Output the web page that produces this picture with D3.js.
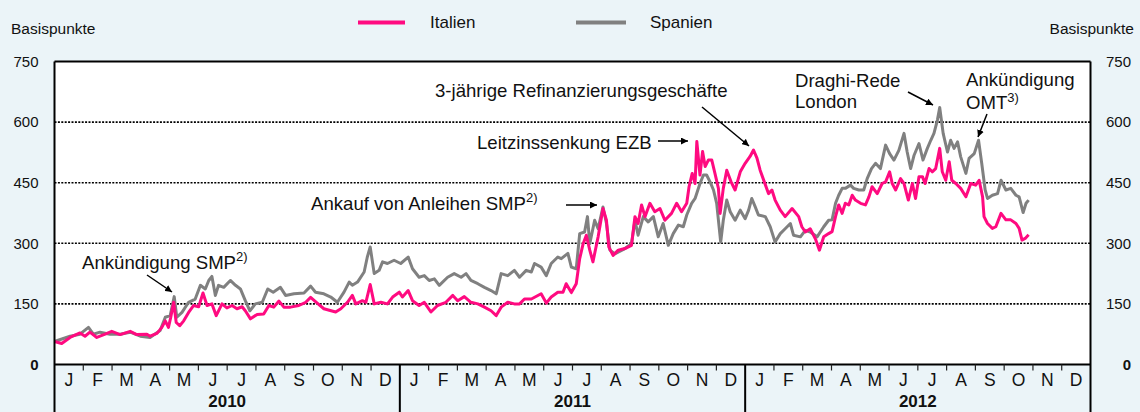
<!DOCTYPE html>
<html><head><meta charset="utf-8">
<script src="https://cdn.jsdelivr.net/npm/d3@7"></script>
<style>
body{margin:0;background:#ebf4f8;}
svg{display:block;font-family:"Liberation Sans",Arial,sans-serif;}
</style>
</head><body><svg id="c" width="1140" height="412"></svg>
<script>
// ---- data ----
const monthLabels = ["J","F","M","A","M","J","J","A","S","O","N","D"];
const yearLabels = ["2010","2011","2012"];
const yTicks = [0,150,300,450,600,750];
const gridTicks = [150,300,450,600];
const seriesNames = ["Italien","Spanien"];
const seriesColors = ["#ff0a80","#808080"];

// months since 1 Jan 2010
const italyMonths = [0.00,0.25,0.54,0.885,1.06,1.23,1.47,1.76,1.99,2.28,2.63,2.86,3.21,3.32,3.56,3.73,3.85,3.96,4.04,4.14,4.23,4.35,4.49,4.66,4.83,5.01,5.16,5.30,5.47,5.62,5.82,5.99,6.17,6.34,6.52,6.63,6.81,7.04,7.27,7.45,7.62,7.80,7.97,8.20,8.49,8.73,8.90,9.13,9.36,9.77,9.95,10.18,10.35,10.47,10.70,10.82,10.97,11.11,11.34,11.57,11.75,11.98,12.09,12.29,12.44,12.67,12.85,13.08,13.31,13.60,13.84,14.01,14.24,14.47,14.71,14.94,15.17,15.35,15.52,15.75,15.98,16.16,16.33,16.57,16.91,17.09,17.26,17.49,17.67,17.78,17.96,18.13,18.25,18.37,18.48,18.60,18.71,18.89,19.06,19.18,19.26,19.41,19.59,19.82,20.05,20.17,20.28,20.40,20.52,20.69,20.86,21.04,21.21,21.44,21.62,21.79,21.97,22.05,22.16,22.26,22.32,22.43,22.52,22.61,22.72,22.84,22.95,23.07,23.13,23.24,23.36,23.51,23.65,23.83,24.00,24.17,24.29,24.41,24.52,24.64,24.81,24.93,25.04,25.22,25.39,25.63,25.86,25.97,26.09,26.26,26.44,26.58,26.73,26.90,27.02,27.14,27.25,27.37,27.48,27.60,27.72,27.83,28.01,28.18,28.30,28.41,28.59,28.76,28.88,29.02,29.11,29.23,29.40,29.52,29.67,29.81,29.92,30.04,30.16,30.25,30.39,30.50,30.62,30.76,30.85,30.97,31.09,31.18,31.32,31.49,31.67,31.84,32.01,32.13,32.25,32.30,32.42,32.59,32.71,32.89,33.06,33.23,33.41,33.52,33.62,33.73,33.85];
const italyValues = [57,52,67,78,70,80,67,75,82,74,82,74,75,70,77,92,108,92,117,154,104,96,108,129,146,143,177,146,150,121,150,140,146,138,143,133,113,124,125,146,142,157,142,142,146,154,166,152,138,130,138,154,171,150,158,154,198,150,154,150,167,179,167,183,158,146,154,130,146,154,171,158,168,154,150,142,133,121,142,154,150,150,162,162,175,152,167,179,179,200,178,200,262,299,320,283,254,316,386,357,291,270,283,287,295,366,349,395,366,399,378,386,357,374,399,378,399,440,473,448,552,469,527,490,506,506,473,436,374,436,481,452,432,477,498,515,531,511,481,457,423,432,407,382,366,386,366,341,328,336,311,283,316,324,329,366,395,374,399,395,419,407,399,395,415,440,423,448,452,477,448,432,460,448,407,448,411,465,465,448,485,477,485,535,477,456,502,456,448,436,415,448,444,456,415,366,349,337,341,374,358,358,349,337,308,312,321];

const spainMonths = [0.00,0.54,0.885,1.18,1.35,1.58,1.93,2.28,2.63,2.98,3.32,3.67,3.85,4.02,4.16,4.25,4.43,4.66,4.89,5.07,5.24,5.36,5.47,5.59,5.70,5.88,6.11,6.29,6.46,6.63,6.79,6.98,7.22,7.41,7.60,7.85,8.03,8.32,8.67,8.90,9.07,9.36,9.60,9.83,10.06,10.24,10.35,10.53,10.76,10.87,10.97,11.11,11.28,11.40,11.57,11.80,12.03,12.29,12.44,12.67,12.85,13.02,13.20,13.37,13.66,13.89,14.13,14.30,14.47,14.71,14.94,15.17,15.35,15.52,15.75,15.98,16.16,16.39,16.57,16.68,16.91,17.09,17.26,17.49,17.61,17.84,17.96,18.13,18.25,18.42,18.52,18.60,18.77,18.89,19.06,19.18,19.30,19.47,19.82,20.05,20.17,20.28,20.46,20.63,20.81,20.98,21.15,21.33,21.50,21.68,21.85,21.97,22.14,22.26,22.43,22.55,22.66,22.78,22.90,23.01,23.15,23.24,23.36,23.48,23.65,23.83,24.00,24.12,24.23,24.35,24.46,24.70,24.87,25.04,25.22,25.39,25.57,25.68,25.92,26.09,26.26,26.50,26.73,26.90,27.02,27.14,27.25,27.37,27.48,27.66,27.77,27.95,28.12,28.24,28.39,28.53,28.70,28.88,29.02,29.17,29.34,29.52,29.63,29.75,29.87,30.04,30.18,30.33,30.45,30.56,30.68,30.76,30.88,31.03,31.14,31.26,31.38,31.49,31.67,31.78,31.96,32.11,32.22,32.34,32.42,32.59,32.77,32.89,33.06,33.23,33.41,33.52,33.66,33.76,33.85];
const spainValues = [57,70,75,92,75,80,75,75,80,70,67,84,117,121,168,117,129,154,162,196,187,208,218,171,196,191,208,196,187,158,133,150,154,187,179,191,171,175,177,194,179,175,167,154,179,204,196,204,229,266,291,225,233,254,250,258,250,266,237,216,220,208,212,196,216,225,216,225,208,200,191,183,175,225,220,233,216,233,229,250,241,220,250,266,262,275,241,237,324,328,366,299,357,336,390,349,283,274,287,299,357,320,366,353,366,316,349,295,324,345,341,370,399,411,448,469,469,452,432,399,303,357,407,378,357,382,361,382,411,390,370,366,341,303,324,336,349,320,316,332,328,316,341,357,358,399,419,436,436,444,436,432,432,460,485,498,485,543,522,506,530,572,526,485,518,547,506,535,555,572,605,636,572,526,555,535,551,514,473,510,522,555,498,432,411,419,423,456,432,436,419,415,376,399,407];

// ---- chart ----
const svg = d3.select("#c");
const L = 54.5, R = 1090.5, T = 61.5, B = 364.5;
const x = d3.scaleLinear().domain([0,36]).range([L,R]);
const y = d3.scaleLinear().domain([0,750]).range([B,T]);

svg.append("rect").attr("width",1140).attr("height",412).attr("fill","#ebf4f8");
svg.append("rect").attr("x",L).attr("y",T).attr("width",R-L).attr("height",B-T).attr("fill","#fff");

// grid
svg.append("g").selectAll("line").data(gridTicks).join("line")
  .attr("x1",L).attr("x2",R).attr("y1",d=>y(d)).attr("y2",d=>y(d))
  .attr("stroke","#000").attr("stroke-width",1.6).attr("stroke-dasharray","2,1.4");

// series
const line = d3.line().x(d=>x(d[0])).y(d=>y(d[1]));
const es = d3.zip(spainMonths, spainValues);
const it = d3.zip(italyMonths, italyValues);
svg.append("path").datum(es).attr("d",line).attr("fill","none")
  .attr("stroke",seriesColors[1]).attr("stroke-width",3).attr("stroke-linejoin","round");
svg.append("path").datum(it).attr("d",line).attr("fill","none")
  .attr("stroke",seriesColors[0]).attr("stroke-width",3).attr("stroke-linejoin","round");

// frame
const fr = svg.append("g").attr("stroke","#000").attr("stroke-width",2);
fr.append("line").attr("x1",L).attr("x2",R).attr("y1",T).attr("y2",T);
fr.append("line").attr("x1",L).attr("x2",R).attr("y1",B).attr("y2",B);
d3.range(0,37,12).forEach(m=>{
  fr.append("line").attr("x1",x(m)).attr("x2",x(m)).attr("y1",(m===0||m===36)?T:B).attr("y2",412);
});
// month ticks
svg.append("g").selectAll("line").data(d3.range(1,36).filter(m=>m%12!==0)).join("line")
  .attr("x1",d=>x(d)).attr("x2",d=>x(d)).attr("y1",B).attr("y2",B+6)
  .attr("stroke","#222").attr("stroke-width",1.2);

// month labels
const months = d3.range(36);
svg.append("g").selectAll("text").data(months).join("text")
  .attr("x",d=>x(d+0.5)).attr("y",386).attr("text-anchor","middle")
  .attr("font-size",17.5).attr("fill","#111").text(d=>monthLabels[d%12]);
svg.append("g").selectAll("text").data(yearLabels).join("text")
  .attr("x",(d,i)=>x(i*12+6)).attr("y",407).attr("text-anchor","middle")
  .attr("font-size",17).attr("font-weight","bold").attr("fill","#111").text(d=>d);

// y labels
[[38.5,"end"],[1131,"end"]].forEach(([xx,anc])=>{
  svg.append("g").selectAll("text").data(yTicks).join("text")
    .attr("x",xx).attr("y",d=>y(d)).attr("dy","0.35em").attr("text-anchor",anc)
    .attr("font-size",15).attr("font-weight",d=>d===0?"bold":"normal").attr("fill","#111").text(d=>d);
});
svg.append("text").attr("x",11).attr("y",34).attr("font-size",15.5).attr("fill","#111").text("Basispunkte");
svg.append("text").attr("x",1134).attr("y",34).attr("text-anchor","end").attr("font-size",15.5).attr("fill","#111").text("Basispunkte");

// legend
const lg = [[358,405,430],[576,626,650]];
lg.forEach(([a,b,t],i)=>{
  svg.append("line").attr("x1",a).attr("x2",b).attr("y1",22.5).attr("y2",22.5)
    .attr("stroke",seriesColors[i]).attr("stroke-width",4);
  svg.append("text").attr("x",t).attr("y",28).attr("font-size",17).attr("fill","#111").text(seriesNames[i]);
});

// annotations
const defs = svg.append("defs");
defs.append("marker").attr("id","arr").attr("viewBox","0 0 10 10").attr("refX",10).attr("refY",5)
  .attr("markerWidth",7).attr("markerHeight",7).attr("markerUnits","userSpaceOnUse").attr("orient","auto")
  .append("path").attr("d","M0,0L10,5L0,10z").attr("fill","#000");
function arrow(x1,y1,x2,y2){
  svg.append("line").attr("x1",x1).attr("y1",y1).attr("x2",x2).attr("y2",y2)
    .attr("stroke","#000").attr("stroke-width",1.5).attr("marker-end","url(#arr)");
}
function label(xx,yy,main,sup,lift){
  const t = svg.append("text").attr("x",xx).attr("y",yy).attr("font-size",18.6).attr("fill","#111");
  t.append("tspan").text(main);
  if(sup){ t.append("tspan").attr("dy",-(lift||8)).attr("font-size",13).text(sup); }
}
label(82,269,"Ankündigung SMP","2)");
arrow(147,275,172,292);
label(311,210,"Ankauf von Anleihen SMP","2)");
arrow(566,205,597,205);
label(477,149,"Leitzinssenkung EZB");
arrow(658,141,688,141);
label(435,97,"3-jährige Refinanzierungsgeschäfte");
arrow(702,107,749,146);
label(795,87,"Draghi-Rede");
label(795,108,"London");
arrow(908,92,933,105);
label(966,86,"Ankündigung");
label(966,109,"OMT","3)",7);
arrow(987,114,978,137);
</script></body></html>
